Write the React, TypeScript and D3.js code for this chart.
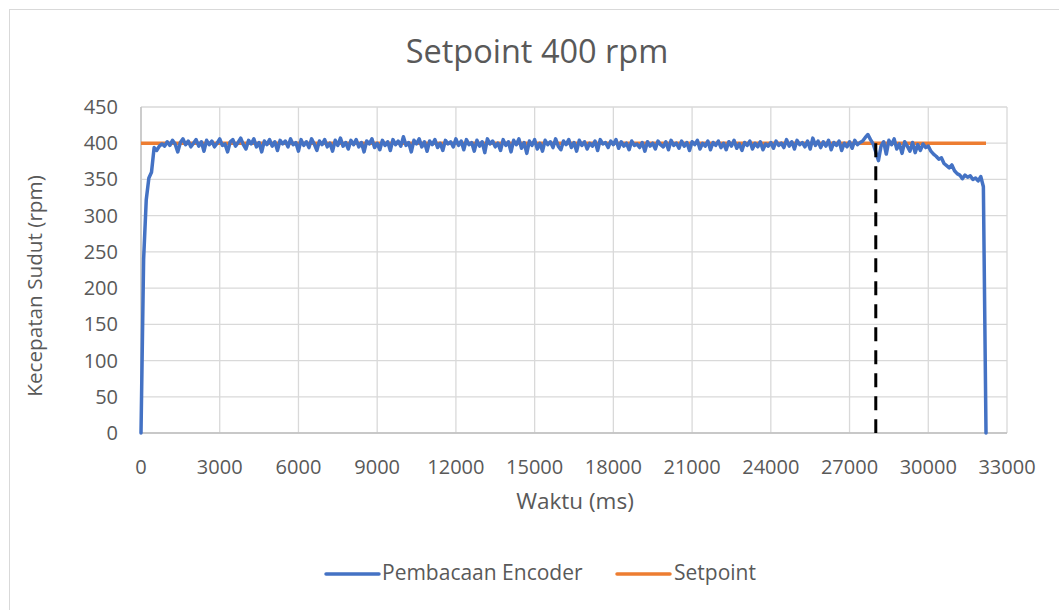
import React from "react";
import * as d3 from "d3";

const TITLE = "Setpoint 400 rpm";
const X_LABEL = "Waktu (ms)";
const Y_LABEL = "Kecepatan Sudut (rpm)";
const SERIES_NAMES = ["Pembacaan Encoder", "Setpoint"];
const X_TICKS = [0, 3000, 6000, 9000, 12000, 15000, 18000, 21000, 24000, 27000, 30000, 33000];
const Y_TICKS = [0, 50, 100, 150, 200, 250, 300, 350, 400, 450];
const SAMPLE_MS = 100;
const SETPOINT = 400;
const SETPOINT_END = 32200;
const MARKER_TIME = 28000;

// Encoder reading, one value every 100 ms
const encoder: number[] = [
  0, 240, 322, 352, 360, 394, 390, 396, 399, 396, 402, 397, 404, 399, 388, 401, 406, 398, 403, 395,
  400, 405, 396, 402, 389, 404, 398, 403, 395, 400, 406, 397, 399, 388, 402, 405, 396, 401, 407, 398,
  392, 404, 399, 406, 395, 401, 388, 403, 398, 405, 396, 402, 390, 404, 399, 403, 395, 406, 398, 401,
  389, 405, 397, 402, 394, 406, 399, 390, 403, 398, 405, 395, 400, 389, 404, 397, 407, 396, 401, 392,
  404, 398, 405, 395, 401, 388, 403, 399, 406, 394, 400, 391, 404, 397, 402, 390, 405, 398, 403, 396,
  409, 397, 401, 388, 404, 399, 406, 395, 402, 389, 403, 398, 405, 394, 400, 390, 404, 399, 402, 395,
  406, 397, 403, 391, 405, 398, 401, 389, 404, 396, 402, 387, 406, 399, 403, 395, 400, 390, 405, 397,
  402, 388, 404, 398, 406, 393, 401, 386, 403, 397, 405, 392, 400, 389, 404, 398, 402, 394, 406, 396,
  391, 403, 398, 405, 394, 401, 389, 404, 397, 402, 392, 400, 396, 403, 390, 405, 399, 401, 394, 403,
  398, 405, 393, 402, 396, 400, 391, 403, 397, 399, 394, 401, 389, 402, 396, 400, 392, 403, 398, 395,
  402, 391, 404, 397, 400, 393, 403, 396, 401, 390, 402, 398, 404, 392, 400, 396, 403, 391, 401, 397,
  403, 394, 400, 391, 402, 396, 404, 393, 399, 390, 401, 397, 403, 392, 400, 395, 402, 391, 399, 396,
  401, 393, 403, 397, 400, 394, 405, 396, 402, 392, 404, 398, 401, 395, 403, 392, 407, 397, 403, 394,
  402, 396, 404, 391, 401, 397, 403, 390, 400, 395, 402, 393, 404, 398, 401, 403, 408, 412, 405, 399,
  388, 376, 396, 402, 385, 404, 398, 406, 392, 399, 386, 402, 396, 389, 401, 387, 398, 390, 399, 394,
  396, 389, 385, 382, 378, 380, 372, 369, 366, 370, 362, 358, 356, 351, 356, 353, 355, 350, 352, 348,
  354, 340, 0,
];

const setpointTimes = [0, SETPOINT_END];
const setpointValues = [SETPOINT, SETPOINT];

const W = 1059;
const H = 610;
const FONT = "'Open Sans', 'Noto Sans', sans-serif";
const TEXT = "#595959";

export default function App() {
  const x = d3.scaleLinear().domain([0, 33000]).range([141, 1007]);
  const y = d3.scaleLinear().domain([0, 450]).range([433, 107]);

  const encLine = d3
    .line<number>()
    .x((_, i) => x(i * SAMPLE_MS))
    .y((d) => y(d));
  const spLine = d3
    .line<number>()
    .x((_, i) => x(setpointTimes[i]))
    .y((d) => y(d));

  return (
    <svg
      width={W}
      height={H}
      style={{ position: "absolute", left: 0, top: 0, background: "#fff" }}
    >
      <rect x={9.5} y={9.5} width={W} height={H} fill="#fff" stroke="#d9d9d9" />
      <text x={537} y={63} textAnchor="middle" fontFamily={FONT} fontSize={32.5} fill={TEXT}>
        {TITLE}
      </text>
      {Y_TICKS.map((t) => (
        <line key={"gy" + t} x1={x(0)} x2={x(33000)} y1={y(t)} y2={y(t)} stroke="#d9d9d9" strokeWidth={1.3} />
      ))}
      {X_TICKS.map((t) => (
        <line key={"gx" + t} x1={x(t)} x2={x(t)} y1={y(0)} y2={y(450)} stroke="#d9d9d9" strokeWidth={1.3} />
      ))}
      <line x1={x(0)} x2={x(33000)} y1={y(0)} y2={y(0)} stroke="#bfbfbf" strokeWidth={1.3} />
      <line x1={x(0)} x2={x(0)} y1={y(0)} y2={y(450)} stroke="#bfbfbf" strokeWidth={1.3} />
      {Y_TICKS.map((t) => (
        <text key={"ty" + t} x={118} y={y(t) + 7} textAnchor="end" fontFamily={FONT} fontSize={20} fill={TEXT}>
          {t}
        </text>
      ))}
      {X_TICKS.map((t) => (
        <text key={"tx" + t} x={x(t)} y={474} textAnchor="middle" fontFamily={FONT} fontSize={20} fill={TEXT}>
          {t}
        </text>
      ))}
      <text x={575} y={509} textAnchor="middle" fontFamily={FONT} fontSize={22.5} fill={TEXT}>
        {X_LABEL}
      </text>
      <text
        transform={`translate(42,${286}) rotate(-90)`}
        textAnchor="middle"
        fontFamily={FONT}
        fontSize={20.7}
        fill={TEXT}
      >
        {Y_LABEL}
      </text>
      <path d={spLine(setpointValues) || ""} fill="none" stroke="#ed7d31" strokeWidth={3.5} />
      <path
        d={encLine(encoder) || ""}
        fill="none"
        stroke="#4472c4"
        strokeWidth={3.5}
        strokeLinejoin="round"
        strokeLinecap="round"
      />
      <line
        x1={x(MARKER_TIME)}
        x2={x(MARKER_TIME)}
        y1={y(SETPOINT)}
        y2={y(0)}
        stroke="#000"
        strokeWidth={3}
        strokeDasharray="14 9"
      />
      <line x1={326} x2={379} y1={574} y2={574} stroke="#4472c4" strokeWidth={3.5} strokeLinecap="round" />
      <text x={382} y={580} fontFamily={FONT} fontSize={21} fill={TEXT}>
        {SERIES_NAMES[0]}
      </text>
      <line x1={617} x2={670} y1={574} y2={574} stroke="#ed7d31" strokeWidth={3.5} strokeLinecap="round" />
      <text x={674} y={580} fontFamily={FONT} fontSize={21} fill={TEXT}>
        {SERIES_NAMES[1]}
      </text>
    </svg>
  );
}
